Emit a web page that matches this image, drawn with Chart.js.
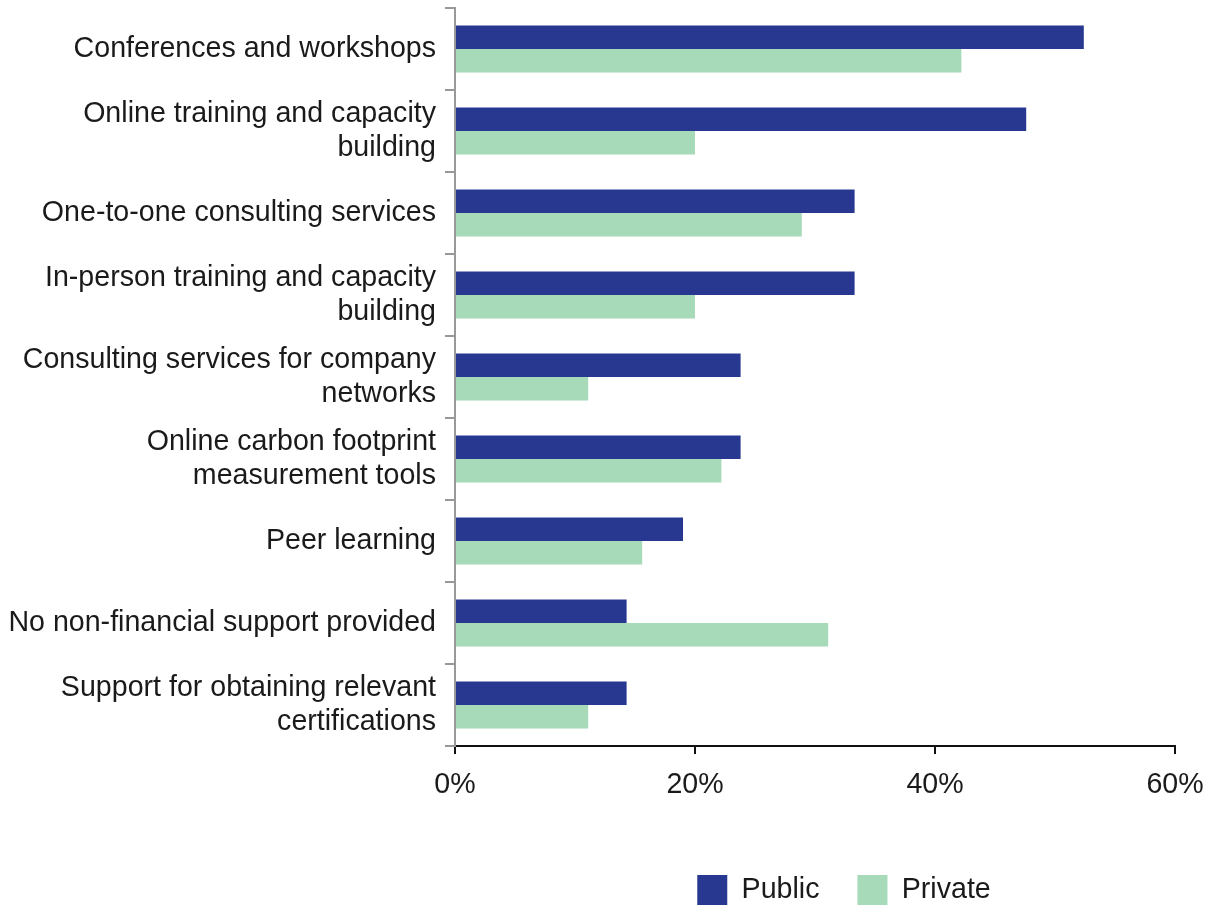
<!DOCTYPE html>
<html>
<head>
<meta charset="utf-8">
<script src="https://cdn.jsdelivr.net/npm/chart.js@4/dist/chart.umd.min.js"></script>
<style>
  html, body { margin: 0; padding: 0; background: #fff; }
  #wrap { width: 1211px; height: 906px; position: relative; }
</style>
</head>
<body>
<div id="wrap"><canvas id="chart"></canvas></div>
<script>
'use strict';

// ===== データ =====
const categories = [
    'Conferences and workshops',
    ['Online training and capacity', 'building'],
    'One-to-one consulting services',
    ['In-person training and capacity', 'building'],
    ['Consulting services for company', 'networks'],
    ['Online carbon footprint', 'measurement tools'],
    'Peer learning',
    'No non-financial support provided',
    ['Support for obtaining relevant', 'certifications'],
];

const publicValues  = [52.4, 47.6, 33.3, 33.3, 23.8, 23.8, 19.0, 14.3, 14.3];
const privateValues = [42.2, 20.0, 28.9, 20.0, 11.1, 22.2, 15.6, 31.1, 11.1];

const xTicks = [0, 20, 40, 60];

const PUBLIC_COLOR  = '#283891';
const PRIVATE_COLOR = '#a6dab9';
const FONT = { family: '"Liberation Sans", Arial, sans-serif', size: 28.6, lineHeight: 1.19 };

// 凡例: 高さを固定し、プロット領域の中央に寄せる
const legendShift = {
    id: 'legendShift',
    beforeLayout(chart) {
        const lg = chart.legend;
        if (!lg || lg._patched) return;
        const origFit = lg.fit.bind(lg);
        lg.fit = function () {
            origFit();
            this.height = 69;
        };
        lg._patched = true;
    },
    afterLayout(chart) {
        const lg = chart.legend;
        if (!lg) return;
        lg.left = chart.chartArea.left + 26;
        lg.right = chart.chartArea.right + 32;
        lg.width = lg.right - lg.left;
    },
};

const ctx = document.getElementById('chart').getContext('2d');
new Chart(ctx, {
    type: 'bar',
    data: {
        labels: categories,
        datasets: [
            { label: 'Public',  data: publicValues,  backgroundColor: PUBLIC_COLOR },
            { label: 'Private', data: privateValues, backgroundColor: PRIVATE_COLOR },
        ],
    },
    options: {
        indexAxis: 'y',
        responsive: true,
        maintainAspectRatio: false,
        animation: false,
        layout: { padding: { top: 8, right: 36, left: 0, bottom: 0 } },
        categoryPercentage: 0.573,
        barPercentage: 1.0,
        plugins: {
            legend: {
                position: 'bottom',
                labels: {
                    font: FONT,
                    color: '#1a1a1a',
                    boxWidth: 30,
                    boxHeight: 30,
                    padding: 38,
                },
            },
            tooltip: { enabled: false },
        },
        scales: {
            x: {
                min: 0,
                max: 60,
                afterBuildTicks: scale => { scale.ticks = xTicks.map(v => ({ value: v })); },
                ticks: {
                    font: FONT,
                    color: '#1a1a1a',
                    padding: 14,
                    callback: v => v + '%',
                },
                grid: { drawOnChartArea: false, drawTicks: true, tickLength: 8, color: '#111', lineWidth: 2 },
                border: { color: '#111', width: 2 },
                afterFit: scale => {
                    scale.height = 91;
                    scale.paddingLeft = 0;
                    scale.paddingRight = 0;
                },
            },
            y: {
                ticks: {
                    font: FONT,
                    color: '#1a1a1a',
                    padding: 9,
                },
                grid: { drawOnChartArea: false, drawTicks: true, tickLength: 10, color: '#999', lineWidth: 2, offset: true },
                border: { color: '#999', width: 2 },
                afterFit: scale => {
                    scale.width = 455;
                    scale.paddingTop = 0;
                    scale.paddingBottom = 0;
                },
            },
        },
    },
    plugins: [legendShift],
});
</script>
</body>
</html>
